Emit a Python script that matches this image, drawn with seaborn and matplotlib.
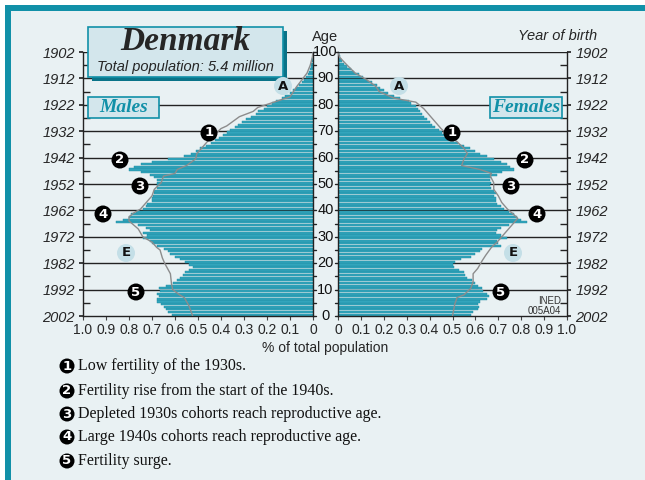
import numpy as np
import pandas as pd
import seaborn as sns
import matplotlib
matplotlib.use("Agg")
import matplotlib.pyplot as plt
from matplotlib.patches import Rectangle, Ellipse
from matplotlib import font_manager as fm

# ---------------- data ----------------
ages = list(range(0, 101))
male = [0.615, 0.63, 0.64, 0.65, 0.66, 0.68, 0.68, 0.67, 0.68, 0.665,
        0.67, 0.64, 0.61, 0.59, 0.58, 0.565, 0.555, 0.54, 0.52, 0.54,
        0.555, 0.58, 0.60, 0.62, 0.63, 0.65, 0.68, 0.70, 0.71, 0.74,
        0.72, 0.74, 0.71, 0.725, 0.76, 0.855, 0.825, 0.80, 0.79, 0.77,
        0.74, 0.725, 0.72, 0.70, 0.70, 0.695, 0.69, 0.69, 0.68, 0.68,
        0.68, 0.68, 0.69, 0.71, 0.75, 0.80, 0.78, 0.75, 0.70, 0.63,
        0.56, 0.53, 0.51, 0.49, 0.465, 0.445, 0.425, 0.41, 0.39, 0.375,
        0.36, 0.34, 0.325, 0.31, 0.29, 0.27, 0.25, 0.24, 0.215, 0.20,
        0.18, 0.16, 0.135, 0.12, 0.10, 0.087, 0.073, 0.06, 0.048, 0.038,
        0.029, 0.023, 0.017, 0.013, 0.010, 0.007, 0.005, 0.003, 0.002, 0.001, 0.0005]
female = [0.58, 0.59, 0.61, 0.615, 0.61, 0.62, 0.65, 0.66, 0.65, 0.635,
          0.63, 0.61, 0.60, 0.585, 0.565, 0.555, 0.55, 0.53, 0.505, 0.50,
          0.51, 0.535, 0.58, 0.60, 0.62, 0.63, 0.71, 0.70, 0.695, 0.74,
          0.71, 0.69, 0.695, 0.71, 0.745, 0.825, 0.80, 0.78, 0.77, 0.745,
          0.725, 0.71, 0.695, 0.69, 0.69, 0.68, 0.69, 0.68, 0.67, 0.665,
          0.67, 0.665, 0.67, 0.695, 0.715, 0.77, 0.75, 0.74, 0.71, 0.68,
          0.65, 0.62, 0.60, 0.575, 0.55, 0.525, 0.505, 0.49, 0.47, 0.455,
          0.44, 0.425, 0.41, 0.40, 0.39, 0.375, 0.365, 0.36, 0.35, 0.34,
          0.32, 0.31, 0.27, 0.245, 0.22, 0.20, 0.185, 0.17, 0.15, 0.125,
          0.11, 0.09, 0.07, 0.055, 0.04, 0.028, 0.019, 0.012, 0.007, 0.004, 0.002]

ref_male_ages = [0, 4, 7, 8, 10, 12, 16, 20, 22, 25, 26, 28, 30, 33, 36, 37.5, 39, 40.5, 43, 45.5,
                 48, 50.5, 53, 54, 55.5, 57, 59.5, 61.5, 63.5, 66, 68.5, 71, 72, 75.5, 77.5, 79,
                 81, 83, 85, 87, 89.5, 92, 95, 98, 100]
ref_male = [0.523, 0.54, 0.56, 0.58, 0.61, 0.615, 0.62, 0.645, 0.655, 0.665, 0.68, 0.70, 0.74,
            0.76, 0.80, 0.80, 0.78, 0.75, 0.725, 0.70, 0.69, 0.66, 0.65, 0.60, 0.59, 0.55, 0.51,
            0.505, 0.485, 0.46, 0.43, 0.40, 0.375, 0.32, 0.26, 0.24, 0.17, 0.10, 0.085, 0.07,
            0.048, 0.026, 0.012, 0.003, 0.0]
ref_female_ages = [0, 4.5, 7, 8, 10.5, 13, 16, 18, 21, 23, 26, 28, 30, 33, 36, 37, 39, 40.5, 43,
                   45.5, 48, 50.5, 53, 54, 55.5, 57, 59.5, 61.5, 63.5, 66, 68.5, 71, 73.5, 76,
                   78.5, 81, 82.5, 85, 87, 89.5, 92, 95, 98, 100]
ref_female = [0.50, 0.51, 0.52, 0.55, 0.58, 0.59, 0.59, 0.61, 0.63, 0.645, 0.67, 0.695, 0.715,
              0.745, 0.775, 0.785, 0.76, 0.74, 0.715, 0.70, 0.68, 0.68, 0.665, 0.67, 0.62, 0.54,
              0.55, 0.565, 0.55, 0.52, 0.48, 0.45, 0.425, 0.40, 0.375, 0.34, 0.245, 0.18, 0.165,
              0.125, 0.075, 0.04, 0.007, 0.0]

age_ticks = list(range(0, 101, 10))
birth_years = [2002 - a for a in age_ticks]
x_ticks = [0, 0.1, 0.2, 0.3, 0.4, 0.5, 0.6, 0.7, 0.8, 0.9, 1.0]
x_ticklabels = ["0", "0.1", "0.2", "0.3", "0.4", "0.5", "0.6", "0.7", "0.8", "0.9", "1.0"]

notes = ["Low fertility of the 1930s.",
         "Fertility rise from the start of the 1940s.",
         "Depleted 1930s cohorts reach reproductive age.",
         "Large 1940s cohorts reach reproductive age.",
         "Fertility surge."]

# ---------------- style ----------------
sns.set_theme(style="white")
names = {f.name for f in fm.fontManager.ttflist}
NARROW = "Liberation Sans Narrow" if "Liberation Sans Narrow" in names else "Liberation Sans"
plt.rcParams["font.family"] = [NARROW, "DejaVu Sans"]
SERIF = ["Liberation Serif", "DejaVu Serif"]

TEAL = "#1190a8"
BG = "#e9f1f3"
BOXFILL = "#d3e6ec"
BAR = "#33a5bc"
BAREDGE = "#1a8aa0"
GREY = "#8c8c8c"

W, H = 645, 480
fig = plt.figure(figsize=(6.45, 4.8), dpi=100, facecolor="white")


def fx(x):
    return x / W


def fy(y):
    return 1 - y / H


# frame (behind everything)
fig.patches.append(Rectangle((fx(11), 0), 1 - fx(11), fy(11), transform=fig.transFigure,
                             facecolor=BG, edgecolor="none", zorder=-10))
fig.patches.append(Rectangle((fx(5), fy(11)), 1 - fx(5), 6 / H, transform=fig.transFigure,
                             facecolor=TEAL, edgecolor="none", zorder=-10))
fig.patches.append(Rectangle((fx(5), 0), 6 / W, fy(5), transform=fig.transFigure,
                             facecolor=TEAL, edgecolor="none", zorder=-10))

ax_bottom, ax_top = 316, 52
axL = fig.add_axes([fx(83), fy(ax_bottom), (313 - 83) / W, (ax_bottom - ax_top) / H])
axR = fig.add_axes([fx(338), fy(ax_bottom), (567 - 338) / W, (ax_bottom - ax_top) / H])

dfm = pd.DataFrame({"age": ages, "pct": male})
dff = pd.DataFrame({"age": ages, "pct": female})
dfm["pos"] = dfm["age"] + 0.5
dff["pos"] = dff["age"] + 0.5

for ax, df, rages, rvals in [(axL, dfm, ref_male_ages, ref_male),
                             (axR, dff, ref_female_ages, ref_female)]:
    ax.set_facecolor("none")
    for a in age_ticks[1:]:
        ax.axhline(a, color="#222222", lw=1.0, zorder=0.5)
    sns.barplot(data=df, x="pct", y="pos", orient="h", native_scale=True, ax=ax,
                color=BAR, edgecolor=BAREDGE, linewidth=0.3, width=0.8,
                saturation=1, zorder=2)
    sns.lineplot(x=rvals, y=rages, sort=False, estimator=None, ax=ax,
                 color=GREY, lw=1.0, zorder=3)
    ax.set_ylim(0, 100)
    ax.set_xlim(0, 1.0)
    ax.set_xticks(x_ticks)
    ax.set_xticklabels(x_ticklabels, fontsize=10)
    ax.set_yticks(age_ticks)
    ax.set_yticks(list(range(5, 100, 10)), minor=True)
    ax.set_xlabel("")
    ax.set_ylabel("")
    ax.spines["top"].set_visible(False)
    for s in ["left", "right", "bottom"]:
        ax.spines[s].set_color("#222222")
        ax.spines[s].set_linewidth(1.0)
    ax.tick_params(axis="x", direction="out", length=3, width=0.8, color="#444444", pad=2,
                   bottom=True)

axL.set_xlim(1.0, 0)
axL.yaxis.tick_left()
axL.set_yticklabels([str(y) for y in birth_years], fontsize=10.5, style="italic")
axL.tick_params(axis="y", which="major", direction="out", length=3, pad=3, left=True)
axL.tick_params(axis="y", which="minor", direction="in", length=5, width=1, color="#222222",
                left=True)

axR.yaxis.tick_right()
axR.set_yticklabels([str(y) for y in birth_years], fontsize=10.5, style="italic")
axR.tick_params(axis="y", which="major", direction="out", length=3, pad=3, right=True)
axR.tick_params(axis="y", which="minor", direction="in", length=5, width=1, color="#222222",
                right=True)

# inner age axis ticks and labels
for a in range(0, 101, 5):
    y = fy(ax_bottom - (ax_bottom - ax_top) * a / 100)
    fig.lines.append(plt.Line2D([fx(313), fx(316)], [y, y], transform=fig.transFigure,
                                color="#222222", lw=1))
    fig.lines.append(plt.Line2D([fx(335), fx(338)], [y, y], transform=fig.transFigure,
                                color="#222222", lw=1))
for a in age_ticks:
    y = fy(ax_bottom - (ax_bottom - ax_top) * a / 100)
    fig.text(fx(325.5), y, str(a), ha="center", va="center", fontsize=10.5,
             color="#111111")
fig.text(fx(325.5), fy(37), "Age", ha="center", va="center", fontsize=10.5)
fig.text(fx(597), fy(36), "Year of birth", ha="right", va="center", fontsize=10.5,
         style="italic")
fig.text(fx(325.5), fy(348), "% of total population", ha="center", va="center", fontsize=10)

# title box with shadow
fig.patches.append(Rectangle((fx(92), fy(81)), (283 - 88) / W, (77 - 27) / H,
                             transform=fig.transFigure, facecolor="#0a7388",
                             edgecolor="none", zorder=5))
fig.patches.append(Rectangle((fx(88), fy(77)), (283 - 88) / W, (77 - 27) / H,
                             transform=fig.transFigure, facecolor=BOXFILL,
                             edgecolor=TEAL, lw=1.2, zorder=6))
fig.text(fx(185), fy(42), "Denmark", ha="center", va="center", fontsize=24,
         family=SERIF, weight="bold", style="italic", zorder=7)
fig.text(fx(185), fy(67), "Total population: 5.4 million", ha="center", va="center",
         fontsize=10.5, style="italic", zorder=7)

# sex boxes
for x0, x1, label in [(88, 159, "Males"), (490, 562, "Females")]:
    fig.patches.append(Rectangle((fx(x0), fy(118)), (x1 - x0) / W, 21 / H,
                                 transform=fig.transFigure, facecolor=BOXFILL,
                                 edgecolor=TEAL, lw=1.2, zorder=6))
    fig.text(fx((x0 + x1) / 2), fy(107.5), label, ha="center", va="center", fontsize=14,
             family=SERIF, weight="bold", style="italic", color=TEAL, zorder=7)


def marker(x, y, t, fc="black", tc="white", d=17):
    fig.patches.append(Ellipse((fx(x), fy(y)), d / W, d / H, transform=fig.transFigure,
                               facecolor=fc, edgecolor="none", zorder=8))
    fig.text(fx(x), fy(y), t, ha="center", va="center", fontsize=9.5, weight="bold",
             color=tc, family="DejaVu Sans", zorder=9)


for (xl, xr, y, t) in [(209, 452, 133, "1"), (120, 525, 160, "2"), (140, 511, 186, "3"),
                       (103, 537, 214, "4"), (136, 501, 292, "5")]:
    marker(xl, y, t)
    marker(xr, y, t)
for (xl, xr, y, t) in [(283, 399, 86, "A"), (126, 513, 253, "E")]:
    marker(xl, y, t, fc="#c4dfe7", tc="#111111", d=18)
    marker(xr, y, t, fc="#c4dfe7", tc="#111111", d=18)

fig.text(fx(561), fy(301), "INED", ha="right", va="center", fontsize=7, color="#333333")
fig.text(fx(561), fy(311), "005A04", ha="right", va="center", fontsize=7, color="#333333")

# notes
for i, (yy, t) in enumerate(zip([366, 391, 414, 437, 461], notes)):
    marker(67, yy, str(i + 1), d=15)
    fig.text(fx(78), fy(yy), t, ha="left", va="center", fontsize=11.5, family=SERIF,
             color="#111111")

fig.savefig("out.png", dpi=100, facecolor="white")
